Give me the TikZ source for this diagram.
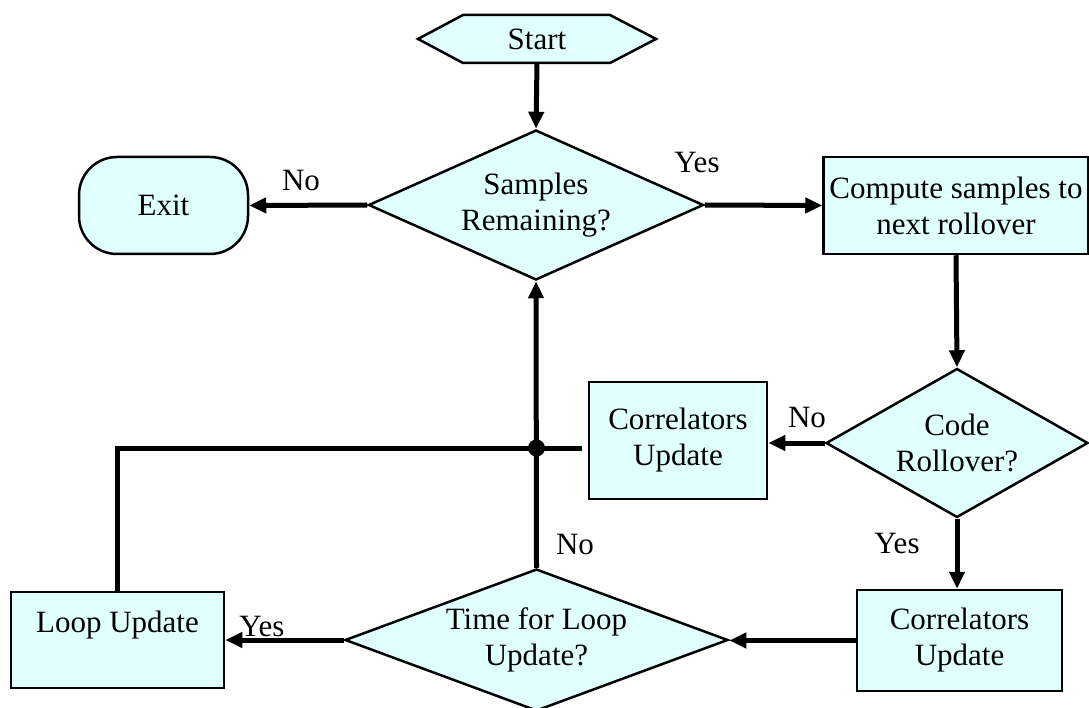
\documentclass[tikz,border=0pt]{standalone}
\usepackage{fontspec}
\setmainfont{Liberation Serif}
\usetikzlibrary{shapes.geometric,arrows.meta}
\definecolor{boxfill}{RGB}{224,255,255}
\tikzset{
  base/.style={draw, line width=2.5pt, fill=boxfill, inner sep=0pt, align=center},
  procbox/.style={base, rectangle},
  decision/.style={base, diamond},
  termbox/.style={base, rectangle, rounded corners=38pt},
  flow/.style={line width=5pt, -{Triangle[length=17pt,width=15pt]}},
  link/.style={line width=5pt},
  lbl/.style={inner sep=0pt}
}

\begin{document}
\begin{tikzpicture}[x=1pt,y=-1pt,font=\fontsize{31}{36}\selectfont]
\useasboundingbox (0,0) rectangle (1089,708);

\filldraw[line width=2.5pt, fill=boxfill] (418,39) -- (463,15) -- (610,15) -- (656,39) -- (610,63) -- (463,63) -- cycle;
\node[minimum width=238pt, minimum height=48pt, inner sep=0pt] (start) at (537,39) {Start};

\node[decision, minimum width=335pt, minimum height=150pt, aspect=2.23] (samples) at (536,205) {Samples\\Remaining?};
\node[termbox, minimum width=169pt, minimum height=97pt] (exit) at (163.5,205.5) {Exit};
\node[procbox, minimum width=265pt, minimum height=97pt] (compute) at (956,205.5) {Compute samples to\\next rollover};
\node[decision, minimum width=262pt, minimum height=149pt, aspect=1.76] (code) at (957,443) {Code\\Rollover?};
\node[procbox, minimum width=178pt, minimum height=117pt] (corrmid) at (678,440.5) {Correlators\\Update};
\node[procbox, minimum width=205pt, minimum height=101pt] (corrbot) at (959.5,640.5) {Correlators\\Update};
\node[decision, minimum width=383pt, minimum height=142pt, aspect=2.7] (time) at (536.5,640) {Time for Loop\\Update?};
\node[procbox, minimum width=213pt, minimum height=96pt] (loop) at (117.5,640) {Loop Update\\ \mbox{}};
\coordinate (junction) at (536.5,448);

\draw[flow] (start.south) -- (samples.north);
\draw[flow] (samples.west) -- (exit.east);
\draw[flow] (samples.east) -- (compute.west);
\draw[flow] (compute.south) -- (code.north);
\draw[flow] (code.west) -- (code.west -| corrmid.east);
\draw[flow] (code.south) -- (code.south |- corrbot.north);
\draw[flow] (corrbot.west) -- (corrbot.west -| time.east);
\draw[flow] (time.west) -- (loop.east);
\draw[flow] (time.north) -- (samples.south);
\draw[link, shorten >=6pt] (junction) -- (junction -| corrmid.west);
\draw[link] (loop.north) |- (junction);
\fill (junction) circle (8.5pt);

\node[lbl] (noexit) at (301,181) {No};
\node[lbl] (yescompute) at (697,163) {Yes};
\node[lbl] (nocorr) at (807,418) {No};
\node[lbl] (yescorr) at (897,543) {Yes};
\node[lbl] (yesloop) at (262,626) {Yes};
\node[lbl] (notime) at (575,544) {No};
\end{tikzpicture}
\end{document}
